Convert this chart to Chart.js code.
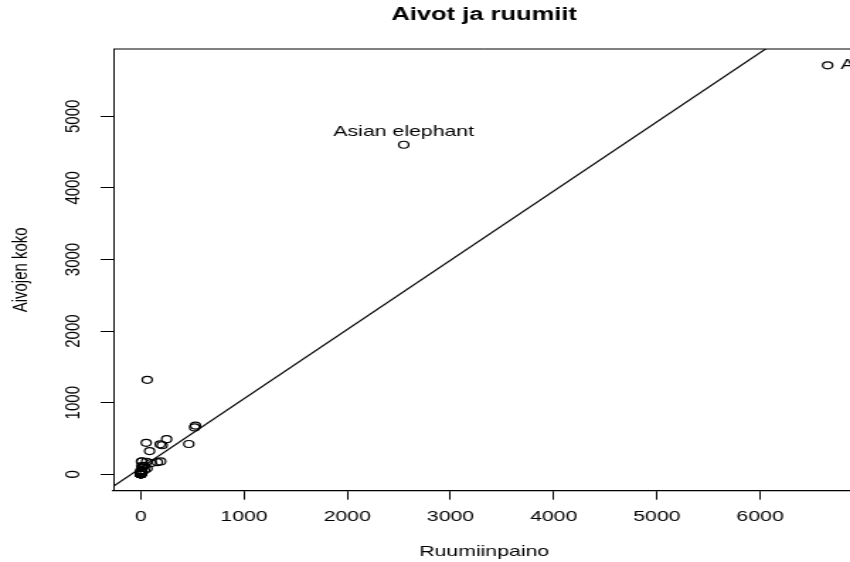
<!DOCTYPE html>
<html lang="fi">
<head>
    <meta charset="UTF-8">
    <title>Aivot ja ruumiit</title>
    <script src="https://cdn.jsdelivr.net/npm/chart.js"></script>
    <style>
        html, body {
            margin: 0;
            padding: 0;
            overflow: hidden;
            background: #fff;
        }
        /* the reference is an R plot stretched sideways, 600 -> 850 */
        .stretch {
            width: 620px;
            height: 562px;
            transform: scaleX(1.416667);
            transform-origin: 0 0;
        }
    </style>
</head>
<body>
    <div class="stretch">
        <canvas id="mammalChart" width="620" height="562"></canvas>
    </div>

    <script>
        // MASS::mammals - body weight (kg) and brain weight (g)
        const animals = ['Arctic fox', 'Owl monkey', 'Mountain beaver', 'Cow', 'Grey wolf', 'Goat', 'Roe deer',
            'Guinea pig', 'Verbet', 'Chinchilla', 'Ground squirrel', 'Arctic ground squirrel',
            'African giant pouched rat', 'Lesser short-tailed shrew', 'Star-nosed mole', 'Nine-banded armadillo',
            'Tree hyrax', 'N.A. opossum', 'Asian elephant', 'Big brown bat', 'Donkey', 'Horse', 'European hedgehog',
            'Patas monkey', 'Cat', 'Galago', 'Genet', 'Giraffe', 'Gorilla', 'Grey seal', 'Rock hyrax-a', 'Human',
            'African elephant', 'Water opossum', 'Rhesus monkey', 'Kangaroo', 'Yellow-bellied marmot',
            'Golden hamster', 'Mouse', 'Little brown bat', 'Slow loris', 'Okapi', 'Rabbit', 'Sheep', 'Jaguar',
            'Chimpanzee', 'Baboon', 'Desert hedgehog', 'Giant armadillo', 'Rock hyrax-b', 'Raccoon', 'Rat',
            'E. American mole', 'Mole rat', 'Musk shrew', 'Pig', 'Echidna', 'Brazilian tapir', 'Tenrec',
            'Phalanger', 'Tree shrew', 'Red fox'];
        const body = [3.385, 0.48, 1.35, 465, 36.33, 27.66, 14.83, 1.04, 4.19, 0.425, 0.101, 0.92, 1, 0.005,
            0.06, 3.5, 2, 1.7, 2547, 0.023, 187.1, 521, 0.785, 10, 3.3, 0.2, 1.41, 529, 207, 85, 0.75, 62,
            6654, 3.5, 6.8, 35, 4.05, 0.12, 0.023, 0.01, 1.4, 250, 2.5, 55.5, 100, 52.16, 10.55, 0.55, 60,
            3.6, 4.288, 0.28, 0.075, 0.122, 0.048, 192, 3, 160, 0.9, 1.62, 0.104, 4.235];
        const brain = [44.5, 15.5, 8.1, 423, 119.5, 115, 98.2, 5.5, 58, 6.4, 4, 5.7, 6.6, 0.14, 1, 10.8,
            12.3, 6.3, 4603, 0.3, 419, 655, 3.5, 115, 25.6, 5, 17.5, 680, 406, 325, 12.3, 1320, 5712, 3.9,
            179, 56, 17, 1, 0.4, 0.25, 12.5, 490, 12.1, 175, 157, 440, 179.5, 2.4, 81, 21, 39.2, 1.9, 1.2,
            3, 0.33, 180, 25, 169, 2.6, 11.4, 2.5, 50.4];

        const labelled = ['Asian elephant', 'African elephant'];
        const xTicks = [0, 1000, 2000, 3000, 4000, 5000, 6000];
        const yTicks = [0, 1000, 2000, 3000, 4000, 5000];

        const FONT = "'Liberation Sans', Arial, Helvetica, sans-serif";
        const LW = 1.2;   // points and fitted line

        // R style axis ranges: data range widened by 4 %
        function rRange(v) {
            const lo = Math.min(...v), hi = Math.max(...v);
            const d = (hi - lo) * 0.04;
            return [lo - d, hi + d];
        }
        const [xMin, xMax] = rRange(body);
        const [yMin, yMax] = rRange(brain);

        // lm(brain ~ body)
        function fitLine(x, y) {
            const n = x.length;
            const mx = x.reduce((a, b) => a + b, 0) / n;
            const my = y.reduce((a, b) => a + b, 0) / n;
            let sxy = 0, sxx = 0;
            for (let i = 0; i < n; i++) {
                sxy += (x[i] - mx) * (y[i] - my);
                sxx += (x[i] - mx) * (x[i] - mx);
            }
            const slope = sxy / sxx;
            return { slope, intercept: my - slope * mx };
        }
        const fit = fitLine(body, brain);

        const points = body.map((b, i) => ({ x: b, y: brain[i] }));
        const fitPoints = [xMin, xMax].map(x => ({ x, y: fit.intercept + fit.slope * x }));

        // box, title and point labels
        const rDecor = {
            id: 'rDecor',
            afterDatasetsDraw(chart) {
                const ctx = chart.ctx;
                const a = chart.chartArea;
                const xs = chart.scales.x, ys = chart.scales.y;
                ctx.save();
                ctx.strokeStyle = '#000';
                ctx.lineWidth = 1;
                ctx.beginPath();
                ctx.moveTo(a.left, a.top);
                ctx.lineTo(a.right, a.top);
                ctx.lineTo(a.right, a.bottom);
                ctx.stroke();

                ctx.fillStyle = '#000';
                ctx.font = 'bold 18px ' + FONT;
                ctx.textAlign = 'center';
                ctx.textBaseline = 'middle';
                ctx.fillText('Aivot ja ruumiit', (a.left + a.right) / 2, 15);

                ctx.font = '15px ' + FONT;
                labelled.forEach((name, k) => {
                    const i = animals.indexOf(name);
                    const px = xs.getPixelForValue(body[i]);
                    const py = ys.getPixelForValue(brain[i]);
                    if (k === 0) {
                        ctx.textAlign = 'center';
                        ctx.textBaseline = 'alphabetic';
                        ctx.fillText(name, px, py - 8.5);
                    } else {
                        ctx.textAlign = 'left';
                        ctx.textBaseline = 'middle';
                        ctx.fillText(name, px + 9, py);
                    }
                });
                ctx.restore();
            }
        };

        const axisGrid = {
            drawOnChartArea: false,
            drawTicks: true,
            tickLength: 9,
            color: '#000',
            lineWidth: 1
        };

        new Chart(document.getElementById('mammalChart'), {
            type: 'scatter',
            data: {
                datasets: [{
                    label: 'mammals',
                    data: points,
                    pointStyle: 'circle',
                    pointRadius: 3.5,
                    pointHoverRadius: 3.5,
                    pointBorderWidth: LW,
                    pointBorderColor: '#000',
                    pointBackgroundColor: 'rgba(0,0,0,0)',
                    showLine: false
                }, {
                    type: 'line',
                    label: 'lm',
                    data: fitPoints,
                    borderColor: '#000',
                    borderWidth: LW,
                    pointRadius: 0,
                    fill: false
                }]
            },
            options: {
                responsive: false,
                animation: false,
                events: [],
                layout: { padding: { top: 49, right: 16.4, left: 0, bottom: 0 } },
                plugins: {
                    legend: { display: false },
                    tooltip: { enabled: false },
                    title: { display: false }
                },
                scales: {
                    x: {
                        type: 'linear',
                        min: xMin,
                        max: xMax,
                        grid: axisGrid,
                        border: { display: true, color: '#000', width: 1.2 },
                        afterBuildTicks: s => { s.ticks = xTicks.map(v => ({ value: v })); },
                        afterFit: s => { s.height = 71.35; },
                        ticks: {
                            autoSkip: false,
                            maxRotation: 0,
                            padding: 8,
                            color: '#000',
                            font: { family: FONT, size: 15 },
                            callback: v => String(v)
                        },
                        title: {
                            display: true,
                            text: 'Ruumiinpaino',
                            color: '#000',
                            font: { family: FONT, size: 15 },
                            padding: { top: 0, bottom: 1 }
                        }
                    },
                    y: {
                        type: 'linear',
                        min: yMin,
                        max: yMax,
                        grid: axisGrid,
                        border: { display: true, color: '#000', width: 1 },
                        afterBuildTicks: s => { s.ticks = yTicks.map(v => ({ value: v })); },
                        afterFit: s => { s.width = 80; },
                        ticks: {
                            autoSkip: false,
                            minRotation: 90,
                            maxRotation: 90,
                            crossAlign: 'center',
                            padding: 2.6,
                            color: '#000',
                            font: { family: FONT, size: 15 },
                            callback: v => String(v)
                        },
                        title: {
                            display: true,
                            text: 'Aivojen koko',
                            color: '#000',
                            font: { family: FONT, size: 15 },
                            padding: { top: 6, bottom: 0 }
                        }
                    }
                }
            },
            plugins: [rDecor]
        });
    </script>
</body>
</html>
